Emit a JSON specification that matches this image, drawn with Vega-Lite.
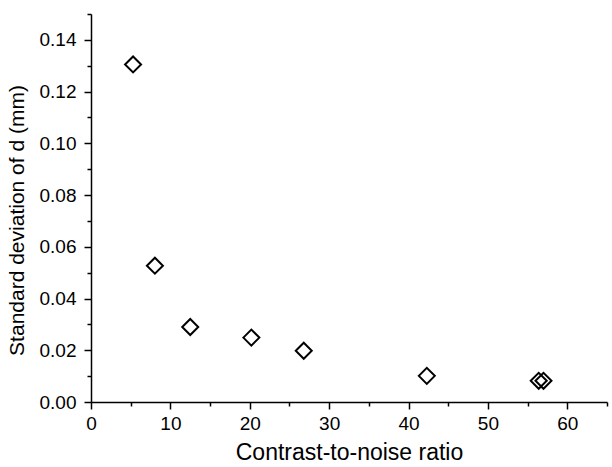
{
  "$schema": "https://vega.github.io/schema/vega-lite/v6.json",
  "width": 516,
  "height": 388,
  "autosize": {"type": "none"},
  "padding": {"left": 91, "top": 14, "right": 5, "bottom": 65},
  "background": "white",
  "config": {
    "view": {"stroke": null},
    "font": "Liberation Sans",
    "axis": {
      "domainColor": "black",
      "domainWidth": 1.5,
      "tickColor": "black",
      "tickWidth": 1.5,
      "labelColor": "black",
      "titleColor": "black",
      "labelFont": "Liberation Sans",
      "titleFont": "Liberation Sans",
      "labelFontSize": 19,
      "titleFontWeight": "normal",
      "grid": false
    }
  },
  "data": {
    "values": [
      {"cnr": 5.3, "sd": 0.1305},
      {"cnr": 8.05, "sd": 0.0527},
      {"cnr": 12.5, "sd": 0.029},
      {"cnr": 20.2, "sd": 0.0249},
      {"cnr": 26.8, "sd": 0.0198},
      {"cnr": 42.3, "sd": 0.0101},
      {"cnr": 56.4, "sd": 0.0082},
      {"cnr": 57.0, "sd": 0.0082}
    ]
  },
  "mark": {"type": "point", "shape": "diamond", "filled": false, "stroke": "black", "strokeWidth": 2, "size": 256, "opacity": 1},
  "encoding": {
    "x": {
      "field": "cnr",
      "type": "quantitative",
      "scale": {"domain": [0, 65], "nice": false, "zero": false},
      "axis": {
        "title": "Contrast-to-noise ratio",
        "titleFontSize": 23,
        "values": [0, 5, 10, 15, 20, 25, 30, 35, 40, 45, 50, 55, 60, 65],
        "labelExpr": "datum.value % 10 === 0 ? format(datum.value, 'd') : ''",
        "tickSize": {"condition": {"test": "datum.value % 10 === 0", "value": 7}, "value": 4},
        "labelPadding": 5,
        "titlePadding": 8,
        "labelFlush": false
      }
    },
    "y": {
      "field": "sd",
      "type": "quantitative",
      "scale": {"domain": [0, 0.15], "nice": false, "zero": false},
      "axis": {
        "title": "Standard deviation of d (mm)",
        "titleFontSize": 21,
        "titleY": 206,
        "values": [0, 0.01, 0.02, 0.03, 0.04, 0.05, 0.06, 0.07, 0.08, 0.09, 0.1, 0.11, 0.12, 0.13, 0.14, 0.15],
        "labelExpr": "round(datum.value * 100) % 2 === 0 && round(datum.value*100) < 15 ? format(datum.value, '.2f') : ''",
        "tickSize": {"condition": {"test": "round(datum.value * 100) % 2 === 0", "value": 7}, "value": 4},
        "labelPadding": 8,
        "titlePadding": 12,
        "labelFlush": false
      }
    }
  }
}
